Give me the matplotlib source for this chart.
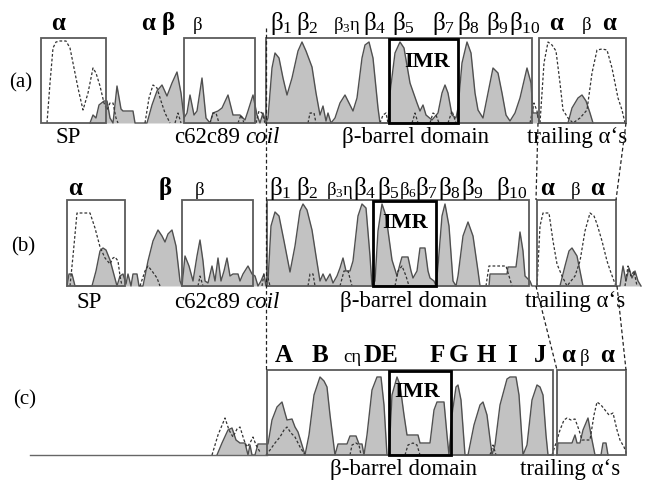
import matplotlib
matplotlib.use("Agg")
import matplotlib.pyplot as plt
import matplotlib.patches as patches

plt.rcParams['font.family'] = ['Liberation Serif', 'DejaVu Serif']
plt.rcParams['mathtext.fontset'] = 'custom'
plt.rcParams['mathtext.rm'] = 'Liberation Serif'
plt.rcParams['mathtext.it'] = 'Liberation Serif:italic'
plt.rcParams['mathtext.bf'] = 'Liberation Serif:bold'

# ---- profil (x, tinggi) tiap panel ----
a_fill = [(90,0),(93,8),(96,5),(99,18),(104,22),(107,22),(110,5),(113,0),(117,37),(121,14),(123,12),(133,12),(135,0),
          (147,0),(152,18),(157,32),(162,38),(167,27),(172,40),(177,51),(181,30),(184,5),(187,10),(190,28),(194,8),(197,12),
          (202,45),(206,5),(210,0),(213,10),(218,12),(222,15),(228,28),(233,8),(240,8),(245,3),(248,12),(253,28),(257,8),
          (260,0),(263,10),(266,0),(268,5),(272,55),(275,70),(279,65),(283,45),(287,28),(292,45),(298,72),(302,81),(306,72),
          (312,56),(316,30),(320,8),(323,17),(326,2),(328,10),(331,0),(335,5),(340,20),(345,28),(350,18),(353,12),(357,25),
          (362,65),(365,78),(369,81),(373,65),(378,15),(380,0),(388,0),(390,30),(395,70),(400,81),(404,75),(410,40),(417,20),
          (420,12),(423,18),(426,8),(432,3),(438,10),(442,30),(445,38),(448,30),(452,8),(456,5),(458,15),(462,60),(467,81),
          (471,70),(475,30),(478,13),(483,5),(487,25),(493,55),(498,50),(502,30),(506,8),(510,2),(515,10),(520,25),(527,55),
          (531,40),(533,10),(537,10),(540,0),(568,0),(572,15),(578,25),(582,28),(586,22),(590,10),(593,0)]
a_dash = [
    [(47,0),(50,40),(53,75),(56,81),(60,82),(66,82),(70,75),(73,60),(78,35),(83,13),(88,30),(93,55),(96,50),(100,37),
     (104,20),(107,13),(110,20),(113,20),(116,5),(118,0)],
    [(145,0),(149,25),(153,38),(157,35),(161,22),(165,10),(170,0)],
    [(175,0),(178,10),(181,0)], [(210,0),(213,10),(216,10),(219,0)], [(238,0),(241,8),(244,0)],
    [(256,0),(259,12),(262,10),(265,0)], [(308,0),(310,10),(314,10),(316,0)], [(380,0),(383,8),(386,10),(388,0)],
    [(412,0),(415,10),(418,0)], [(430,0),(433,10),(436,8),(439,0)], [(448,0),(452,12),(456,0)],
    [(530,0),(534,20),(537,12),(539,0)],
    [(540,0),(544,60),(548,81),(552,78),(556,72),(560,40),(563,13),(568,5),(573,0),(580,5),(587,13),(592,50),(597,73),
     (602,74),(607,73),(612,55),(618,25),(622,13),(625,0)],
]
b_fill = [(67,0),(69,12),(72,12),(75,0),(92,0),(96,15),(100,35),(103,38),(106,36),(110,26),(113,15),(117,0),(120,10),
          (123,12),(126,2),(128,12),(131,0),(133,12),(137,12),(139,0),(143,0),(148,25),(153,45),(158,56),(162,50),(165,44),
          (168,52),(172,56),(176,40),(180,5),(182,0),(185,30),(189,20),(193,5),(197,30),(200,46),(203,25),(205,5),(208,3),
          (212,20),(215,5),(218,28),(221,5),(224,15),(227,28),(230,10),(233,12),(238,12),(240,5),(243,12),(248,20),(252,12),
          (255,10),(258,0),(261,5),(264,12),(266,0),(268,5),(271,60),(275,74),(279,70),(284,45),(290,14),(295,40),(300,75),
          (303,82),(307,76),(312,56),(316,30),(320,5),(323,12),(326,5),(330,12),(333,3),(337,10),(340,18),(343,28),(346,15),
          (350,15),(353,25),(358,70),(362,82),(366,78),(370,30),(372,0),(375,5),(378,55),(382,82),(386,70),(392,26),(397,10),
          (400,22),(402,29),(408,29),(411,15),(413,8),(417,15),(420,38),(425,38),(428,15),(430,8),(434,5),(436,0),(438,20),
          (442,70),(445,82),(449,60),(453,5),(456,0),(458,10),(463,50),(468,64),(473,50),(478,15),(480,0),(489,0),(490,12),
          (507,12),(508,19),(516,19),(518,35),(520,54),(523,35),(525,10),(530,5),(532,0),(560,0),(565,20),(569,35),(572,38),
          (577,30),(583,0),(620,0),(623,20),(626,5),(629,18),(632,8),(635,15),(638,5),(641,0)]
b_dash = [
    [(70,0),(73,30),(77,73),(84,73),(90,73),(95,58),(100,39),(105,28),(110,22),(113,28),(115,29),(118,25),(120,10),(122,0)],
    [(140,0),(145,15),(148,20),(152,15),(157,8),(160,0)], [(198,0),(200,10),(203,0)],
    [(262,0),(264,12),(267,12),(270,0)], [(308,0),(310,12),(313,12),(315,0)], [(340,0),(344,15),(348,15),(352,0)],
    [(395,0),(398,15),(402,20),(406,10),(409,0)], [(486,0),(489,20),(506,20),(509,10),(512,0)],
    [(537,0),(540,60),(543,73),(549,73),(553,45),(557,22),(562,10),(567,0),(575,10),(580,25),(585,55),(590,73),(594,70),
     (597,62),(602,45),(607,25),(610,16),(614,5),(616,0)],
    [(625,0),(628,20),(631,10),(634,15),(637,0)],
]
c_fill = [(217,0),(222,12),(228,25),(232,27),(236,15),(240,12),(245,12),(248,0),(250,10),(252,0),(255,0),(258,11),(267,11),
          (268,11),(272,35),(277,48),(282,53),(285,42),(287,35),(292,36),(295,28),(298,23),(302,10),(305,0),(309,20),(314,60),
          (320,78),(324,74),(327,68),(330,40),(335,0),(338,11),(347,11),(350,19),(356,19),(359,11),(362,11),(364,0),(367,20),
          (372,65),(377,78),(381,78),(384,50),(387,0),(389,0),(392,60),(397,78),(400,70),(404,40),(407,20),(418,20),(420,12),
          (430,12),(434,45),(437,53),(444,53),(447,20),(449,0),(452,40),(456,68),(458,70),(461,55),(465,0),(468,0),(474,30),
          (480,50),(483,53),(487,40),(492,0),(495,10),(500,50),(507,76),(510,78),(516,78),(519,60),(523,0),(527,10),(532,55),
          (537,70),(540,68),(543,60),(546,20),(548,0),(557,0),(558,12),(572,12),(575,20),(577,12),(580,12),(583,25),(588,37),
          (592,15),(595,0),(601,0),(603,12),(606,12),(608,0)]
c_dash = [
    [(212,0),(218,20),(225,37),(229,25),(233,18),(237,26),(240,28),(244,15),(247,8),(250,12),(253,18),(256,10),(260,3)],
    [(266,0),(270,5),(275,12),(280,18),(284,25),(287,28),(291,22),(295,18),(300,8),(305,0)],
    [(350,0),(352,10),(356,12),(359,10),(361,0)], [(405,0),(408,10),(413,12),(417,10),(420,0)],
    [(490,0),(493,10),(496,0)],
    [(552,0),(556,12),(560,25),(564,35),(567,37),(571,35),(575,36),(579,25),(582,15),(586,15),(590,15),(594,40),(597,53),
     (601,50),(605,45),(609,40),(613,42),(617,25),(620,15),(624,8),(627,0)],
]

# kotak (x0, x1) per panel; IMR ditebalkan
a_boxes = [(41,106),(184,255),(266,532),(539,626)]
b_boxes = [(67,125),(182,253),(267,529),(537,616)]
c_boxes = [(267,553),(557,626)]
imr = {'a': (389,458), 'b': (373,436), 'c': (389,451)}
base = {'a': 123, 'b': 286, 'c': 455}
top = {'a': 38, 'b': 200, 'c': 370}

# label atas: (teks, x tengah, ukuran, tebal)
a_top = [('α',58,'L',True),('α',148,'L',True),('β',168,'L',True),('β',198,'S',False),
         (r'$\mathregular{β_1}$',281,'L',False),(r'$\mathregular{β_2}$',307,'L',False),
         (r'$\mathregular{β_3η}$',347,'S',False),(r'$\mathregular{β_4}$',375,'L',False),
         (r'$\mathregular{β_5}$',403,'L',False),(r'$\mathregular{β_7}$',444,'L',False),
         (r'$\mathregular{β_8}$',468,'L',False),(r'$\mathregular{β_9}$',497,'L',False),
         (r'$\mathregular{β_{10}}$',525,'L',False),('α',556,'L',True),('β',587,'S',False),('α',609,'L',True)]
b_top = [('α',75,'L',True),('β',165,'L',True),('β',200,'S',False),
         (r'$\mathregular{β_1}$',280,'L',False),(r'$\mathregular{β_2}$',307,'L',False),
         (r'$\mathregular{β_3η}$',340,'S',False),(r'$\mathregular{β_4}$',365,'L',False),
         (r'$\mathregular{β_5}$',388,'L',False),(r'$\mathregular{β_6}$',408,'S',False),
         (r'$\mathregular{β_7}$',427,'L',False),(r'$\mathregular{β_8}$',449,'L',False),
         (r'$\mathregular{β_9}$',472,'L',False),(r'$\mathregular{β_{10}}$',512,'L',False),
         ('α',547,'L',True),('β',576,'S',False),('α',597,'L',True)]
c_top = [('A',284,'L',True),('B',320,'L',True),('cη',352,'S',False),('DE',381,'L',True),('F',437,'L',True),
         ('G',458,'L',True),('H',486,'L',True),('I',512,'L',True),('J',540,'L',True),
         ('α',568,'L',True),('β',585,'S',False),('α',607,'L',True)]
top_y = {'a': 30, 'b': 195, 'c': 362}

fig = plt.figure(figsize=(6.47, 4.83), dpi=100)
ax = fig.add_axes([0, 0, 1, 1])
ax.set_xlim(0, 647)
ax.set_ylim(483, 0)
ax.axis('off')

fill_c = '#c2c2c2'
line_c = '#505050'


def gambar_profil(pts, y0):
    xs = [p[0] for p in pts]
    ys = [y0 - p[1] for p in pts]
    ax.fill_between(xs, y0, ys, color=fill_c, lw=0, zorder=2)
    ax.plot(xs, ys, color=line_c, lw=1.0, zorder=3)


def gambar_garis(segs, y0):
    for s in segs:
        ax.plot([p[0] for p in s], [y0 - p[1] for p in s], color='#333333', lw=0.9,
                ls=(0, (2.2, 1.6)), zorder=4)


for key, boxes in (('a', a_boxes), ('b', b_boxes), ('c', c_boxes)):
    for x0, x1 in boxes:
        ax.add_patch(patches.Rectangle((x0, top[key]), x1 - x0, base[key] - top[key],
                                       fill=False, ec='#5a5a5a', lw=1.3, zorder=5))
    x0, x1 = imr[key]
    ax.add_patch(patches.Rectangle((x0, top[key] + 1), x1 - x0, base[key] - top[key] - 1,
                                   fill=False, ec='black', lw=2.0, zorder=6))

gambar_profil(a_fill, base['a'])
gambar_profil(b_fill, base['b'])
gambar_profil(c_fill, base['c'])
gambar_garis(a_dash, base['a'])
gambar_garis(b_dash, base['b'])
gambar_garis(c_dash, base['c'])

# garis dasar panel (c)
ax.plot([30, 267], [455, 455], color='#666666', lw=1.0, zorder=3)

# garis penghubung putus-putus
conn = [((266, 28), (266, 370)), ((538, 123), (536, 200)), ((626, 123), (616, 200)),
        ((536, 286), (557, 370)), ((617, 286), (626, 370))]
for (x0, y0), (x1, y1) in conn:
    ax.plot([x0, x1], [y0, y1], color='#222222', lw=0.9, ls=(0, (3, 2)), zorder=7)

for key, labels in (('a', a_top), ('b', b_top), ('c', c_top)):
    for txt, x, size, bold in labels:
        ax.text(x, top_y[key], txt, ha='center', va='baseline',
                fontsize=18 if size == 'L' else 13.5,
                fontweight='bold' if bold else 'normal', zorder=8)

for key, (x, y) in {'a': (427, 62), 'b': (405, 223), 'c': (417, 392)}.items():
    ax.text(x, y, 'IMR', ha='center', va='center', fontsize=16, fontweight='bold', zorder=8)

for key, (x, y) in {'a': (21, 83), 'b': (23, 247), 'c': (25, 400)}.items():
    ax.text(x, y, '(%s)' % key, ha='center', va='center', fontsize=15)

fs = 16.5
for y in (143, 308):
    ax.text(240, y, 'c62c89', ha='right', va='baseline', fontsize=fs)
    ax.text(245, y, 'coil', ha='left', va='baseline', fontsize=fs, style='italic')
ax.text(68, 143, 'SP', ha='center', va='baseline', fontsize=fs)
ax.text(89, 308, 'SP', ha='center', va='baseline', fontsize=fs)
for x, y in ((416, 143), (414, 307), (403, 475)):
    ax.text(x, y, 'β-barrel domain', ha='center', va='baseline', fontsize=fs)
for x, y in ((577, 143), (575, 307), (570, 475)):
    ax.text(x, y, 'trailing α‘s', ha='center', va='baseline', fontsize=fs)

fig.savefig('out.png', dpi=100)
